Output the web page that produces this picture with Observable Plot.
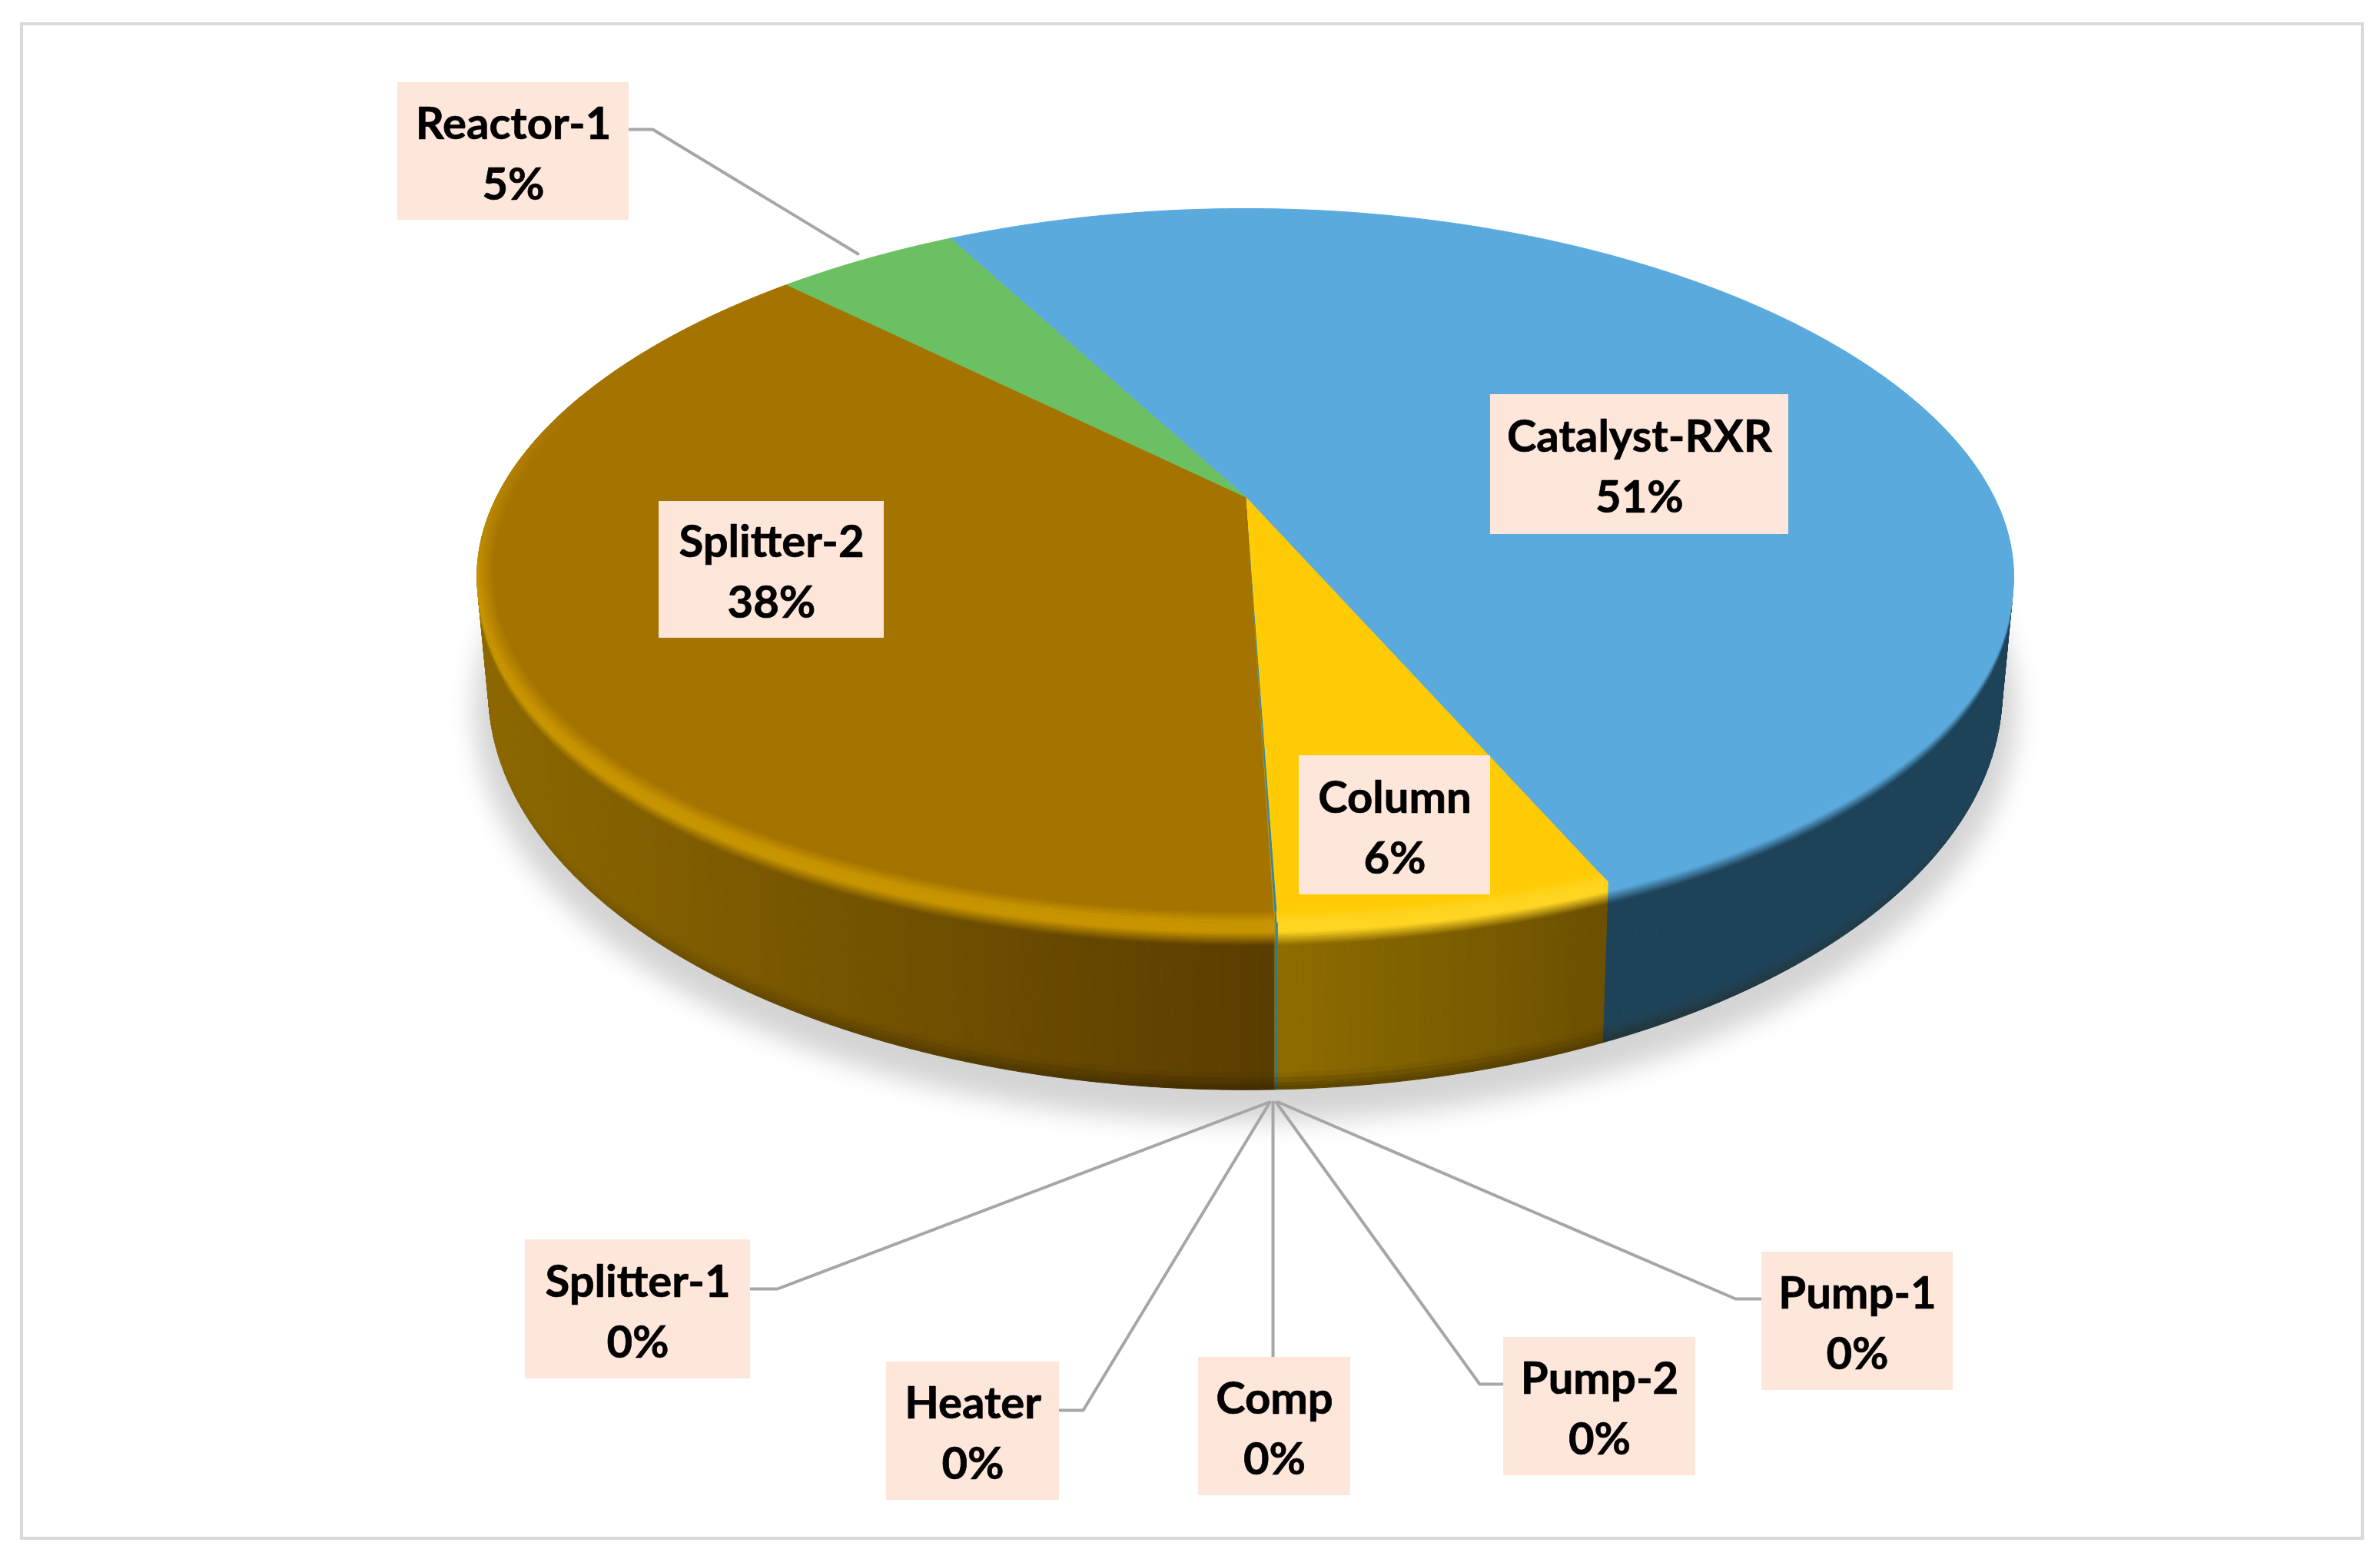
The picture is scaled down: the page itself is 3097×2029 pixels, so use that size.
<!DOCTYPE html>
<html>
<head>
<meta charset="utf-8">
<script src="https://cdn.jsdelivr.net/npm/d3@7"></script>
<script src="https://cdn.jsdelivr.net/npm/@observablehq/plot@0.6"></script>
<style>
html,body{margin:0;padding:0;background:#fff;}
svg{display:block;}
.pie-shadow{filter:blur(16px);}
</style>
</head>
<body>
<div id="chart"></div>
<script>
// ---- chart values ----
const categories = ["Catalyst-RXR","Column","Pump-1","Pump-2","Comp","Heater","Splitter-1","Splitter-2","Reactor-1"];
const shares     = [51.11, 5.93, 0.04, 0.02, 0.02, 0.02, 0.02, 38.24, 4.6];

// ---- styling per slice ----
const topColors  = ["#5baade","#ffcb05","#2f87b0","#c79000","#a57300","#a57300","#a57300","#a57300","#6cc064"];
const rimColors  = ["#5baade","#ffd522","#2f87b0","#c79000","#c89500","#c89500","#c89500","#c89500","#6cc064"];
// wall colour at the start and at the visible end of each slice's arc (clockwise)
const wallStart  = ["#1e4359","#6c5000","#2e7a9a","#8a6500","#5a3d00","#5a3d00","#5a3d00","#5a3d00","#8d6800"];
const wallEnd    = ["#1e4359","#8f6d00","#2e7a9a","#8a6500","#5a3d00","#5a3d00","#5a3d00","#8c6700","#8d6800"];

// ---- layout in the picture's units ----
const W = 3097, H = 2029;
const startAngle = -27.3;                 // clockwise from the far side, degrees
const persp = {cx:1620, y0:646, R:981, h:447.3, k:0.1927, drop:154, taperX:0.015, growY:0.115, bulge:15};
const labelBoxes = [
  {x1:1939,x2:2327,y1:513,y2:695},   // Catalyst-RXR
  {x1:1690,x2:1939,y1:983,y2:1164},  // Column
  {x1:2292,x2:2541,y1:1629,y2:1809}, // Pump-1
  {x1:1956,x2:2206,y1:1740,y2:1920}, // Pump-2
  {x1:1559,x2:1757,y1:1766,y2:1946}, // Comp
  {x1:1153,x2:1378,y1:1772,y2:1952}, // Heater
  {x1:683,x2:976,y1:1613,y2:1794},   // Splitter-1
  {x1:857,x2:1150,y1:652,y2:830},    // Splitter-2
  {x1:517,x2:818,y1:107,y2:286}      // Reactor-1
];
const leaders = {
  "Reactor-1":[[818,168],[849,168],[1116,330]],
  "Splitter-1":[[976,1677],[1011,1677],[1651,1434]],
  "Heater":[[1378,1835],[1409,1835],[1652,1434]],
  "Comp":[[1656,1766],[1656,1434]],
  "Pump-2":[[1956,1801],[1925,1801],[1660,1434]],
  "Pump-1":[[2292,1690],[2258,1690],[1663,1434]]
};
const frame = [{x1:28,y1:31,x2:3074,y2:2002}];

// ---- geometry derived from the values ----
const total = d3.sum(shares);
let acc = startAngle;
const slices = categories.map((name,i)=>{
  const a0 = acc; acc += shares[i]/total*360;
  return {name,i,a0,a1:acc,value:shares[i]};
});
function project(deg,r=1,z=0){
  const t = deg*Math.PI/180, xu = r*Math.sin(t), yu = -r*Math.cos(t);
  const w = 1-persp.k*yu;
  return [
    persp.cx+persp.R*(1-persp.taperX*z)*xu/w,
    persp.y0+z*persp.drop+persp.h*(1+persp.growY*z)*yu/w+persp.bulge*Math.max(0,1-z)*xu*xu
  ];
}
const wallZ = [0,.06,.07,.08,.09,.10,.11,.12,.13,.14,.5,.9,.93,.96,.98,1];
const dm = 0.75, wallFrom = 90, wallTo = 270;
const topRows=[], rimRows=[], shadowRows=[], strips=[];
function quad(rows,id,color,pts){ pts.forEach(p=>rows.push({id,color,x:p[0],y:p[1]})); }
function lerp(c1,c2,t){ return d3.interpolateRgb(c1,c2)(Math.max(0,Math.min(1,t))); }
function norm(a){ return ((a%360)+360)%360; }
function fade(a){ // rim strength on the visible front
  const n=norm(a);
  if(n<80||n>290) return 0;
  if(n<115) return (n-80)/35;
  if(n>255) return (290-n)/35;
  return 1;
}
slices.forEach(s=>{
  const n = Math.max(1,Math.ceil((s.a1-s.a0)/dm));
  const step=(s.a1-s.a0)/n;
  const visEnd = Math.min(s.a1,wallTo);
  const xStart = project(s.a0)[0], xEnd = project(visEnd)[0];
  const arc=[[persp.cx,persp.y0]];
  for(let j=0;j<=n;j++) arc.push(project(s.a0+j*step));
  quad(topRows,"t"+s.i,topColors[s.i],arc);
  for(let j=0;j<n;j++){
    const a=s.a0+j*step,b=a+step,mid=(a+b)/2,f=fade(mid);
    if(f>0 && rimColors[s.i]!==topColors[s.i]){
      const rs=[.98,.983,.986,.989,.992,.995,.998,1];
      for(let q=0;q<rs.length-1;q++){
        quad(rimRows,`r${s.i}_${j}_${q}`,lerp(topColors[s.i],rimColors[s.i],f*(q+1)/(rs.length-1)),
          [project(a,rs[q]),project(b,rs[q]),project(b,rs[q+1]),project(a,rs[q+1])]);
      }
    }
    const nm=norm(mid);
    if(nm>wallFrom&&nm<wallTo){
      const wc=lerp(wallStart[s.i],wallEnd[s.i],(project(mid)[0]-xStart)/((xEnd-xStart)||1));
      const dark=Math.max(0,1-Math.abs(nm-180)/70);
      const rows=[];
      for(let q=0;q<wallZ.length-1;q++){
        const zm=(wallZ[q]+wallZ[q+1])/2;
        let c;
        if(zm<.14) c=lerp(rimColors[s.i],wc,(zm-.06)/.08);
        else if(zm>.9) c=d3.interpolateRgb(wc,"#2a1c00")((zm-.9)/.1*.55*dark);
        else c=wc;
        quad(rows,`w${s.i}_${j}_${q}`,c,
          [project(a,1,wallZ[q]),project(b,1,wallZ[q]),project(b,1,wallZ[q+1]),project(a,1,wallZ[q+1])]);
      }
      strips.push({order:Math.abs(nm-180),rows});
    }
  }
});
// strips nearest the viewer are painted last
strips.sort((p,q)=>q.order-p.order);
const wallRows = strips.flatMap(d=>d.rows);
for(let a=0;a<=360;a+=2){ const p=project(a,1.02,1.12); shadowRows.push({x:p[0],y:p[1]}); }

const boxes = slices.map((s,i)=>({...labelBoxes[i],label:`${s.name}\n${Math.round(s.value)}%`}));
const leaderRows = Object.entries(leaders).flatMap(([name,pts])=>pts.map(p=>({name,x:p[0],y:p[1]})));

const poly = rows => Plot.line(rows,{x:"x",y:"y",z:"id",fill:"color",stroke:"color",strokeWidth:1,curve:"linear-closed"});

const chart = Plot.plot({
  width:W,height:H,margin:0,
  style:{background:"#fff"},
  x:{domain:[0,W],range:[0,W],axis:null},
  y:{domain:[0,H],range:[0,H],axis:null},
  color:{type:"identity"},
  marks:[
    Plot.rect(frame,{x1:"x1",x2:"x2",y1:"y1",y2:"y2",fill:"none",stroke:"#d9d9d9",strokeWidth:4}),
    Plot.line(shadowRows,{x:"x",y:"y",fill:"#d4d4d4",stroke:"none",className:"pie-shadow"}),
    poly(wallRows),
    poly(topRows),
    poly(rimRows),
    Plot.line(leaderRows,{x:"x",y:"y",z:"name",stroke:"#a6a6a6",strokeWidth:4,strokeLinejoin:"round"}),
    Plot.rect(boxes,{x1:"x1",x2:"x2",y1:"y1",y2:"y2",fill:"#fee6da"}),
    Plot.text(boxes,{
      x:d=>(d.x1+d.x2)/2,y:d=>(d.y1+d.y2)/2-2,text:"label",
      fontFamily:"Lato",fontWeight:700,fontSize:58,lineHeight:1.36,fill:"#000",stroke:"#000",strokeWidth:0.7,textAnchor:"middle",lineAnchor:"middle"
    })
  ]
});
document.getElementById("chart").append(chart);
</script>
</body>
</html>
